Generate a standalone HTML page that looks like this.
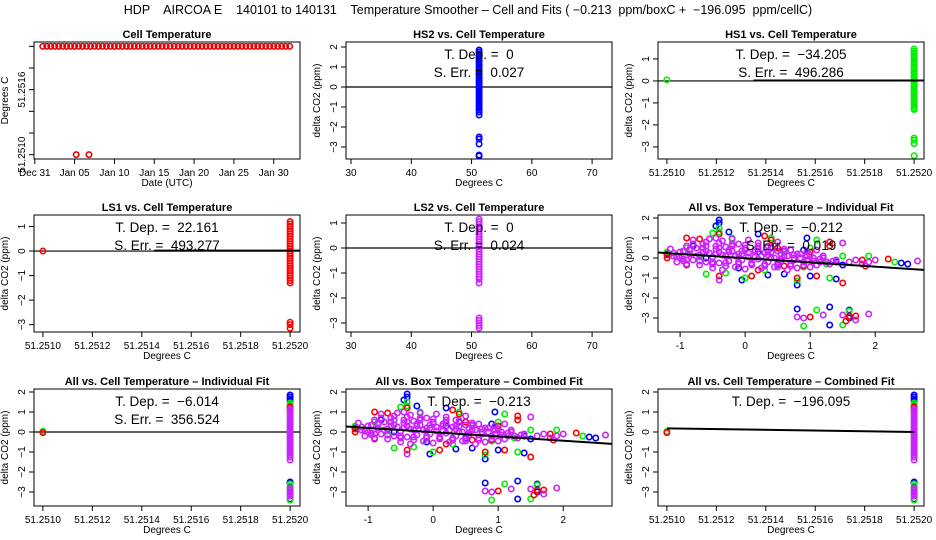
<!DOCTYPE html>
<html><head><meta charset="utf-8">
<style>
html,body{margin:0;padding:0;background:#fff;}
svg{display:block;font-family:"Liberation Sans",Arial,sans-serif;}
svg text{white-space:pre;}
</style></head>
<body>
<svg id="chart" width="936" height="540" viewBox="0 0 936 540">
<text x="468" y="14" text-anchor="middle" font-size="12.5">HDP    AIRCOA E    140101 to 140131    Temperature Smoother – Cell and Fits ( −0.213  ppm/boxC +  −196.095  ppm/cellC)</text>
</svg>
<script>
// ---------- DATA ----------
const cellDays = [1.0,1.5,2.0,2.5,3.0,3.5,4.0,4.5,5.0,5.5,6.0,6.5,7.0,7.5,8.0,8.5,9.0,9.5,10.0,10.5,11.0,11.5,12.0,12.5,13.0,13.5,14.0,14.5,15.0,15.5,16.0,16.5,17.0,17.5,18.0,18.5,19.0,19.5,20.0,20.5,21.0,21.5,22.0,22.5,23.0,23.5,24.0,24.5,25.0,25.5,26.0,26.5,27.0,27.5,28.0,28.5,29.0,29.5,30.0,30.5,31.0,31.5,32.0,5.2,6.8];
const cellTemps = [51.2520,51.2520,51.2520,51.2520,51.2520,51.2520,51.2520,51.2520,51.2520,51.2520,51.2520,51.2520,51.2520,51.2520,51.2520,51.2520,51.2520,51.2520,51.2520,51.2520,51.2520,51.2520,51.2520,51.2520,51.2520,51.2520,51.2520,51.2520,51.2520,51.2520,51.2520,51.2520,51.2520,51.2520,51.2520,51.2520,51.2520,51.2520,51.2520,51.2520,51.2520,51.2520,51.2520,51.2520,51.2520,51.2520,51.2520,51.2520,51.2520,51.2520,51.2520,51.2520,51.2520,51.2520,51.2520,51.2520,51.2520,51.2520,51.2520,51.2520,51.2520,51.2520,51.2520,51.2510,51.2510];
const dayTicks = [0,5,10,15,20,25,30];
const dayLabels = ["Dec 31","Jan 05","Jan 10","Jan 15","Jan 20","Jan 25","Jan 30"];
const cellTicks = [51.2510,51.2512,51.2514,51.2516,51.2518,51.2520];
const cellTickLabels = ["51.2510","51.2512","51.2514","51.2516","51.2518","51.2520"];

const hs2Y = [1.85,1.75,1.65,1.55,1.45,1.35,1.25,1.15,1.05,0.95,0.85,0.75,0.65,0.55,0.45,0.35,0.25,0.15,0.05,-0.05,-0.15,-0.25,-0.35,-0.45,-0.55,-0.65,-0.75,-0.85,-0.95,-1.05,-1.15,-1.25,-1.4,-2.5,-2.6,-2.85,-3.4,-3.45];
const hs1Y = [1.45,1.35,1.25,1.15,1.05,0.95,0.85,0.75,0.65,0.55,0.45,0.35,0.25,0.15,0.05,-0.05,-0.15,-0.25,-0.35,-0.45,-0.55,-0.65,-0.75,-0.85,-0.95,-1.05,-1.15,-1.25,-1.3,-2.6,-2.7,-2.85,-3.4];
const ls1Y = [1.2,1.1,1.0,0.9,0.8,0.7,0.6,0.5,0.4,0.3,0.2,0.1,0.0,-0.1,-0.2,-0.3,-0.4,-0.5,-0.6,-0.7,-0.8,-0.9,-1.0,-1.1,-1.2,-1.3,-2.9,-3.0,-3.15];
const ls2Y = [1.15,1.05,0.95,0.85,0.75,0.65,0.55,0.45,0.35,0.25,0.15,0.05,-0.05,-0.15,-0.25,-0.35,-0.45,-0.55,-0.65,-0.75,-0.85,-0.95,-1.05,-1.15,-1.25,-1.4,-2.8,-2.9,-3.0,-3.1,-3.2];
const allBlueY = [1.85,1.75,1.65,1.55,-2.5,-2.55,-3.35];
const allGreenY = [1.45,1.35,-2.6,-2.7,-3.4];
const allRedY = [1.25,1.2];

const blueX = [-0.4,-0.4,-0.45,-0.25,0.2,0.95,0.9,1.4,2.4,2.5,1.0,0.8,1.4,-0.05,0.35,0.6,0.8,1.3,1.3,1.6,1.6,-1.2,-0.6,0.2,0.5,1.5,-0.8,0.4,-0.1];
const blueY = [1.9,1.75,1.6,1.3,1.2,1.0,0.4,-0.2,-0.25,-0.3,-0.9,-1.35,-1.05,-1.1,-0.85,-0.8,-2.55,-2.45,-3.35,-2.6,-3.0,0.2,0.0,0.3,-0.3,-0.35,0.6,0.5,-0.5];
const greenX = [-0.4,-0.4,-0.5,-0.2,0.4,1.1,1.5,1.9,2.3,0.9,1.3,0.8,0.0,-0.6,-0.3,1.1,1.6,0.9,1.5,-1.2,-0.9,0.6,1.0,-0.7,0.3,1.25];
const greenY = [1.5,1.3,1.25,1.0,1.0,0.9,0.1,0.1,-0.2,-0.45,-1.0,-1.15,-1.0,-0.8,-0.75,-2.6,-2.65,-3.4,-3.35,0.3,0.5,0.3,0.5,0.05,-0.6,-0.3];
const redX = [-0.4,0.3,-0.9,-0.7,1.3,1.3,0.5,0.6,1.8,2.2,1.85,0.9,1.1,0.8,0.1,-0.4,0.2,1.0,1.55,1.6,1.7,-1.2,-1.2,-0.9,-0.2,0.4,1.5,1.0];
const redY = [1.2,1.1,1.0,0.95,0.8,0.6,0.5,-0.4,-0.1,-0.05,-0.4,-0.4,-0.9,-1.0,-0.9,-0.9,-0.6,-2.95,-3.15,-2.9,-2.9,0.0,0.15,-0.35,0.6,0.9,-1.25,0.3];
const magX = [-1.15,-1.1,-1.05,-1.0,-0.95,-0.9,-0.9,-0.85,-0.8,-0.8,-0.75,-0.7,-0.7,-0.65,-0.6,-0.6,-0.55,-0.5,-0.5,-0.45,-0.45,-0.4,-0.4,-0.35,-0.35,-0.3,-0.3,-0.25,-0.2,-0.2,-0.15,-0.1,-0.1,-0.05,0.0,0.0,0.05,0.05,0.1,0.15,0.2,0.2,0.25,0.3,0.35,0.35,0.4,0.45,0.5,0.5,0.55,0.6,0.65,0.7,0.7,0.75,0.8,0.85,0.9,0.95,1.0,1.05,1.1,1.15,1.2,1.3,1.4,1.5,1.6,1.7,1.8,1.9,2.0,-0.4,0.8,1.2,1.5,1.9,1.7,0.9,2.65,
 -1.1,-1.0,-0.95,-0.85,-0.75,-0.65,-0.55,-0.45,-0.35,-0.25,-0.15,-0.05,0.05,0.15,0.25,0.35,0.45,0.55,0.65,0.75,0.85,0.95,1.05,1.15,1.25,1.35,-0.95,-0.8,-0.6,-0.4,-0.2,0.0,0.2,0.4,0.6,0.8,1.0,1.2,-0.5,-0.3,-0.1,0.1,0.3,0.5,
 -1.05,-0.9,-0.7,-0.5,-0.3,-0.1,0.1,0.3,0.5,0.7,0.9,1.1,-0.85,-0.65,-0.45,-0.25,-0.05,0.15,0.35,0.55,0.75,0.95,-0.6,-0.4,-0.2,0.0,0.2,0.4,0.6];
const magY = [0.45,0.1,-0.2,0.3,-0.05,0.6,-0.3,0.2,0.9,-0.1,0.5,-0.35,0.15,0.7,-0.2,0.35,0.95,0.05,-0.5,0.6,1.0,-0.25,0.3,0.85,-0.6,0.1,0.55,-0.15,0.95,0.35,-0.45,0.2,0.7,-0.1,0.5,-0.55,0.9,0.05,-0.3,0.4,-0.05,0.75,-0.5,0.25,0.6,-0.2,0.0,-0.45,0.35,0.8,-0.15,0.1,-0.6,0.4,-0.3,0.0,-0.5,0.2,-0.2,0.3,-0.45,0.0,0.4,-0.2,0.1,-0.3,-0.1,0.75,-0.2,-0.1,-0.3,-0.2,-0.1,-1.1,-2.95,-2.85,-2.85,-2.8,-3.1,-3.0,-0.15,
 0.25,0.0,0.35,0.4,0.1,0.3,0.25,0.2,0.15,0.3,0.1,0.2,0.25,0.05,0.1,0.15,0.0,-0.05,0.1,-0.1,0.0,-0.1,-0.15,-0.05,-0.2,-0.15,-0.15,0.7,0.6,0.5,0.6,0.4,0.45,0.3,0.35,0.2,0.15,0.0,-0.3,-0.4,-0.3,-0.35,-0.4,-0.45,
 0.05,-0.1,-0.15,-0.2,-0.25,-0.2,-0.25,-0.3,-0.35,-0.4,-0.35,-0.35,0.45,0.5,0.45,0.4,0.35,0.3,0.3,0.2,0.15,0.1,0.8,0.75,0.7,0.65,0.6,0.55,0.45];

const fitBoxIndSlope = -0.212, fitBoxIndInt = -0.01;
const fitBoxCombSlope = -0.213, fitBoxCombInt = -0.01;
const hs1FitX = [51.25135, 51.25204], hs1FitY = [0.02, 0.02];
const ls1FitX = [51.25145, 51.25204], ls1FitY = [0.02, 0.02];
const cellCombFitX = [51.2510, 51.2520], cellCombFitY = [0.18, 0.0];

// ---------- RENDER ----------
const NS = "http://www.w3.org/2000/svg";
const svg = document.getElementById('chart');
function el(tag, attrs, parent) {
  const e = document.createElementNS(NS, tag);
  for (const k in attrs) e.setAttribute(k, attrs[k]);
  (parent || svg).appendChild(e);
  return e;
}
const cellXlim = [51.250964, 51.252040];
const midXlim = [29.17, 73.3];
const boxXlim = [-1.34, 2.75];

function panel(col, row, opt) {
  const L = col*312+34, R = col*312+300;
  const T = [42,215,389][row], B = T+117;
  const g = el('g', {});
  
  
  const sx = v => L + (v - opt.xlim[0])/(opt.xlim[1]-opt.xlim[0])*(R-L);
  const sy = v => B - (v - opt.ylim[0])/(opt.ylim[1]-opt.ylim[0])*(B-T);
  const t = el('text', {x:(L+R)/2, y:T-4, 'text-anchor':'middle', 'font-size':'11', 'font-weight':'bold'}, g);
  t.textContent = opt.title;
  
  
  const clip = 'clip'+col+row;
  const cp = el('clipPath', {id:clip}, g);
  el('rect', {x:L, y:T, width:R-L, height:B-T}, cp);
  const plot = el('g', {'clip-path':'url(#'+clip+')'}, g);
  opt.xticks.forEach((v, i) => {
    const x = sx(v);
    el('line', {x1:x, x2:x, y1:B, y2:B+5, stroke:'#000'}, g);
    const lab = el('text', {x:x, y:B+17, 'text-anchor':'middle', 'font-size':'10'}, g);
    lab.textContent = opt.xlabels ? opt.xlabels[i] : String(v);
    
    
  });
  el('line', {x1:sx(opt.xticks[0]), x2:sx(opt.xticks[opt.xticks.length-1]), y1:B, y2:B, stroke:'#000'}, g);
  opt.yticks.forEach(v => {
    const y = sy(v);
    el('line', {x1:L-5, x2:L, y1:y, y2:y, stroke:'#000'}, g);
  });
  opt.ylabels.forEach((v, i) => {
    const y = sy(v);
    const lab = el('text', {x:0, y:0, 'text-anchor':'middle', 'font-size':'10', transform:'translate('+(L-9)+','+y+') rotate(-90)'}, g);
    lab.textContent = opt.ylabelText ? opt.ylabelText[i] : String(v).replace('-', '\u2212');
    
    
  });
  el('line', {x1:L, x2:L, y1:sy(opt.yticks[0]), y2:sy(opt.yticks[opt.yticks.length-1]), stroke:'#000'}, g);
  const xt = el('text', {x:(L+R)/2, y:B+27, 'text-anchor':'middle', 'font-size':'10'}, g);
  xt.textContent = opt.xtitle;
  
  
  const yt = el('text', {x:0, y:0, 'text-anchor':'middle', 'font-size':'10', transform:'translate('+(L-26)+','+((T+B)/2)+') rotate(-90)'}, g);
  yt.textContent = opt.ytitle;
  
  
  if (opt.zero) el('line', {x1:L, x2:R, y1:sy(0), y2:sy(0), stroke:'#000', 'stroke-width':'1.2'}, plot);
  (opt.series||[]).forEach(s => {
    const sg = el('g', {}, plot);
    
    
    s.y.forEach((yv, i) => {
      const xv = Array.isArray(s.x) ? s.x[i] : s.x;
      const c = el('circle', {cx:sx(xv), cy:sy(yv), r:2.7, fill:'none', stroke:s.color, 'stroke-width':'1.6'}, sg);
      
      
    });
  });
  (opt.lines||[]).forEach(ln => {
    const l = el('line', {x1:sx(ln.x[0]), y1:sy(ln.y[0]), x2:sx(ln.x[1]), y2:sy(ln.y[1]), stroke:'#000', 'stroke-width':'2'}, plot);
    
    
  });
  (opt.notes||[]).forEach((n, i) => {
    const tx = el('text', {x:(L+R)/2, y:T+17+i*18, 'text-anchor':'middle', 'font-size':'13.5'}, g);
    tx.textContent = n;
    
    
  });
  el('rect', {x:L, y:T, width:R-L, height:B-T, fill:'none', stroke:'#000'}, g);
}
function abl(a, b, xl) { return {x:[xl[0], xl[1]], y:[a + b*xl[0], a + b*xl[1]]}; }

panel(0,0,{name:'cell-temperature-panel', title:'Cell Temperature', xlim:[-0.1,33.3], ylim:[51.25096,51.25204],
  xticks:dayTicks, xlabels:dayLabels, yticks:cellTicks, ylabels:[51.2510,51.2516], ylabelText:["51.2510","51.2516"], xtitle:'Date (UTC)', ytitle:'Degrees C',
  series:[{name:'cell-temp-series', x:cellDays, y:cellTemps, color:'#e00000'}]});
panel(1,0,{name:'hs2-panel', title:'HS2 vs. Cell Temperature', xlim:midXlim, ylim:[-3.6,2.25],
  xticks:[30,40,50,60,70], yticks:[-3,-2,-1,0,1,2], ylabels:[-3,-2,-1,0,1,2], xtitle:'Degrees C', ytitle:'delta CO2 (ppm)', zero:true,
  series:[{name:'hs2-series', x:51.252, y:hs2Y, color:'#0000ff'}], notes:['T. Dep. =  0','S. Err. =  0.027']});
panel(2,0,{name:'hs1-panel', title:'HS1 vs. Cell Temperature', xlim:cellXlim, ylim:[-3.55,1.77],
  xticks:cellTicks, xlabels:cellTickLabels, yticks:[-3,-2,-1,0,1], ylabels:[-3,-2,-1,0,1], xtitle:'Degrees C', ytitle:'delta CO2 (ppm)', zero:true,
  series:[{name:'hs1-series', x:51.252, y:hs1Y, color:'#00ee00'},{name:'hs1-left-point', x:51.251, y:[0.05], color:'#00ee00'}],
  lines:[{x:hs1FitX, y:hs1FitY}], notes:['T. Dep. =  \u221234.205','S. Err. =  496.286']});
panel(0,1,{name:'ls1-panel', title:'LS1 vs. Cell Temperature', xlim:cellXlim, ylim:[-3.3,1.47],
  xticks:cellTicks, xlabels:cellTickLabels, yticks:[-3,-2,-1,0,1], ylabels:[-3,-2,-1,0,1], xtitle:'Degrees C', ytitle:'delta CO2 (ppm)', zero:true,
  series:[{name:'ls1-series', x:51.252, y:ls1Y, color:'#ff0000'},{name:'ls1-left-point', x:51.251, y:[0.0], color:'#ff0000'}],
  lines:[{x:ls1FitX, y:ls1FitY}], notes:['T. Dep. =  22.161','S. Err. =  493.277']});
panel(1,1,{name:'ls2-panel', title:'LS2 vs. Cell Temperature', xlim:midXlim, ylim:[-3.36,1.32],
  xticks:[30,40,50,60,70], yticks:[-3,-2,-1,0,1], ylabels:[-3,-2,-1,0,1], xtitle:'Degrees C', ytitle:'delta CO2 (ppm)', zero:true,
  series:[{name:'ls2-series', x:51.252, y:ls2Y, color:'#cc22ff'}], notes:['T. Dep. =  0','S. Err. =  0.024']});
const boxSeries = [
  {name:'blue-series', x:blueX, y:blueY, color:'#0000ff'},
  {name:'green-series', x:greenX, y:greenY, color:'#00ee00'},
  {name:'red-series', x:redX, y:redY, color:'#ff0000'},
  {name:'magenta-series', x:magX, y:magY, color:'#cc22ff'}];
panel(2,1,{name:'box-individual-panel', title:'All vs. Box Temperature \u2013 Individual Fit', xlim:boxXlim, ylim:[-3.7,2.15],
  xticks:[-1,0,1,2], yticks:[-3,-2,-1,0,1,2], ylabels:[-3,-2,-1,0,1,2], xtitle:'Degrees C', ytitle:'delta CO2 (ppm)',
  series:boxSeries, lines:[abl(fitBoxIndInt, fitBoxIndSlope, boxXlim)], notes:['T. Dep. =  \u22120.212','S. Err. =  0.019']});
panel(0,2,{name:'cell-individual-panel', title:'All vs. Cell Temperature \u2013 Individual Fit', xlim:cellXlim, ylim:[-3.7,2.15],
  xticks:cellTicks, xlabels:cellTickLabels, yticks:[-3,-2,-1,0,1,2], ylabels:[-3,-2,-1,0,1,2], xtitle:'Degrees C', ytitle:'delta CO2 (ppm)', zero:true,
  series:[{name:'blue-col', x:51.252, y:allBlueY, color:'#0000ff'},{name:'green-col', x:51.252, y:allGreenY, color:'#00ee00'},
          {name:'red-col', x:51.252, y:allRedY, color:'#ff0000'},{name:'magenta-col', x:51.252, y:ls2Y, color:'#cc22ff'},
          {name:'green-left', x:51.251, y:[0.03], color:'#00ee00'},{name:'red-left', x:51.251, y:[-0.03], color:'#ff0000'}],
  notes:['T. Dep. =  \u22126.014','S. Err. =  356.524']});
panel(1,2,{name:'box-combined-panel', title:'All vs. Box Temperature \u2013 Combined Fit', xlim:boxXlim, ylim:[-3.7,2.15],
  xticks:[-1,0,1,2], yticks:[-3,-2,-1,0,1,2], ylabels:[-3,-2,-1,0,1,2], xtitle:'Degrees C', ytitle:'delta CO2 (ppm)',
  series:boxSeries, lines:[abl(fitBoxCombInt, fitBoxCombSlope, boxXlim)], notes:['T. Dep. =  \u22120.213']});
panel(2,2,{name:'cell-combined-panel', title:'All vs. Cell Temperature \u2013 Combined Fit', xlim:cellXlim, ylim:[-3.7,2.15],
  xticks:cellTicks, xlabels:cellTickLabels, yticks:[-3,-2,-1,0,1,2], ylabels:[-3,-2,-1,0,1,2], xtitle:'Degrees C', ytitle:'delta CO2 (ppm)',
  series:[{name:'blue-col', x:51.252, y:allBlueY, color:'#0000ff'},{name:'green-col', x:51.252, y:allGreenY, color:'#00ee00'},
          {name:'red-col', x:51.252, y:allRedY, color:'#ff0000'},{name:'magenta-col', x:51.252, y:ls2Y, color:'#cc22ff'},
          {name:'green-left', x:51.251, y:[0.03], color:'#00ee00'},{name:'red-left', x:51.251, y:[-0.03], color:'#ff0000'}],
  lines:[{x:cellCombFitX, y:cellCombFitY}], notes:['T. Dep. =  \u2212196.095']});
</script>
</body></html>
